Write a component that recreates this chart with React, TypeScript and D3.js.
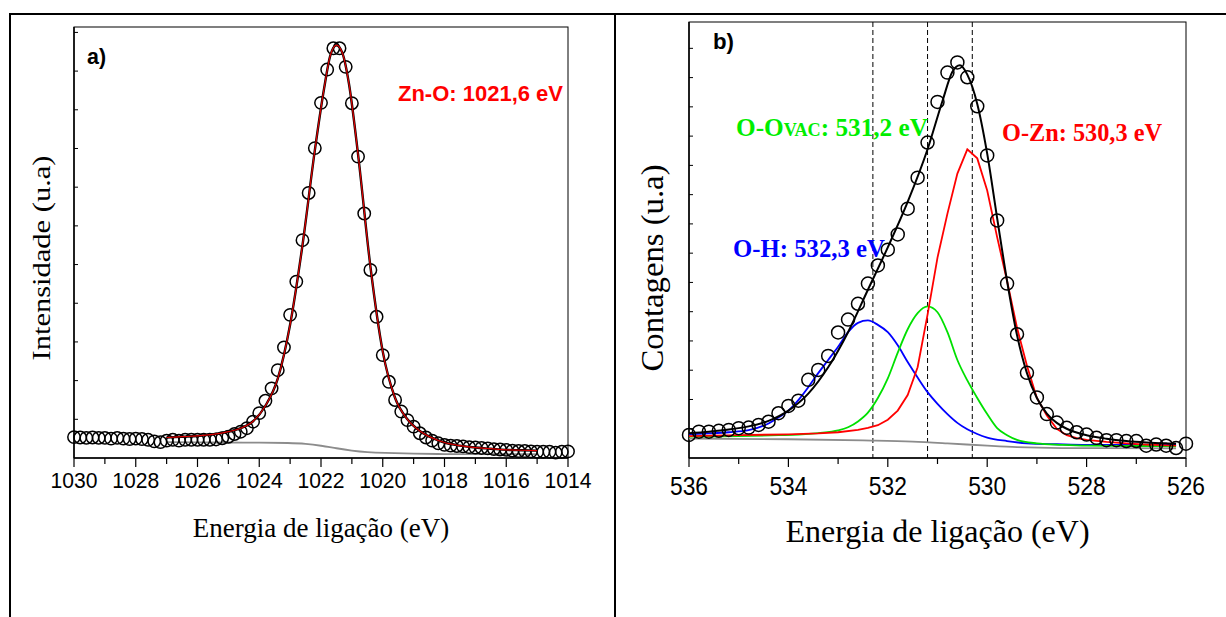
import React from "react";
import * as d3 from "d3";

// ---------- Panel a: Zn 2p ----------
const scanAStart = 1030;
const scanAStep = 0.2;
const dataA = [
  0.54, 0.53, 0.52, 0.53, 0.52, 0.52, 0.50, 0.52, 0.50, 0.49, 0.50, 0.49, 0.47, 0.43, 0.41, 0.45, 0.47, 0.45, 0.47, 0.47, 0.47, 0.47, 0.47, 0.48,
  0.51, 0.55, 0.62, 0.68, 0.77, 0.94, 1.16, 1.48, 1.80, 2.27, 2.86, 3.70, 4.56, 5.63, 6.85, 8.01, 9.18, 10.04, 10.59, 10.59, 10.11, 9.17, 7.79, 6.32, 4.86, 3.65, 2.66, 1.97, 1.50, 1.20, 0.98, 0.81, 0.64, 0.53, 0.45, 0.38, 0.34,
  0.32, 0.31, 0.30, 0.28, 0.27, 0.26, 0.25, 0.23, 0.22, 0.21, 0.19, 0.18, 0.18, 0.17, 0.16, 0.16, 0.16, 0.14, 0.16, 0.17,
];
const fitA: [number, number][] = [
  [1027.0, 0.53], [1026.5, 0.55], [1026.0, 0.57], [1025.5, 0.61], [1025.0, 0.68], [1024.6, 0.77], [1024.2, 0.95],
  [1023.8, 1.35], [1023.4, 2.05], [1023.0, 3.45], [1022.6, 5.5], [1022.2, 7.95], [1021.9, 9.55], [1021.7, 10.4],
  [1021.5, 10.67], [1021.3, 10.45], [1021.1, 9.7], [1020.8, 7.85], [1020.4, 4.95], [1020.0, 2.75], [1019.6, 1.55],
  [1019.2, 1.0], [1018.8, 0.7], [1018.4, 0.52], [1018.0, 0.4], [1017.5, 0.32], [1017.0, 0.27], [1016.5, 0.24],
  [1016.0, 0.21], [1015.5, 0.2], [1015.0, 0.19],
];
const bgA: [number, number][] = [
  [1027, 0.41], [1026, 0.40], [1025, 0.40], [1024, 0.40], [1023, 0.39], [1022.5, 0.37], [1022, 0.32], [1021.5, 0.25],
  [1021, 0.19], [1020.5, 0.15], [1020, 0.13], [1019, 0.11], [1018, 0.10], [1017, 0.10], [1016, 0.10], [1015, 0.10],
];
const xTicksA = [1030, 1028, 1026, 1024, 1022, 1020, 1018, 1016, 1014];
const xMinorA = [1029, 1027, 1025, 1023, 1021, 1019, 1017, 1015];
const yTicksA = [1, 2, 3, 4, 5, 6, 7, 8, 9, 10, 11];

// ---------- Panel b: O 1s ----------
const scanBStart = 536;
const scanBStep = 0.2;
const dataB = [
  0.79, 0.90, 0.90, 0.93, 0.96, 1.02, 1.04, 1.13, 1.24, 1.53, 1.78, 1.96, 2.67,
  3.01, 3.49, 4.29, 4.73, 5.27, 5.96, 6.58, 7.12, 7.64, 8.52, 9.58, 10.78, 12.17, 13.17, 13.52,
  13.01, 12.02, 10.34, 8.12, 5.96, 4.23, 2.91, 2.07, 1.50, 1.21, 1.03, 0.88, 0.80, 0.69, 0.61, 0.61, 0.58, 0.58, 0.42, 0.46, 0.42, 0.34, 0.49,
];
const envB: [number, number][] = [
  [536.0, 0.85], [535.6, 0.9], [535.2, 0.97], [534.8, 1.08], [534.4, 1.27], [534.0, 1.62], [533.6, 2.2], [533.2, 3.1],
  [532.8, 4.3], [532.4, 5.75], [532.0, 7.2], [531.6, 8.75], [531.2, 10.55], [530.9, 12.2], [530.7, 13.2], [530.55, 13.42],
  [530.4, 13.1], [530.2, 12.1], [530.0, 10.4], [529.8, 8.2], [529.6, 6.05], [529.4, 4.2], [529.2, 2.9], [529.0, 2.05],
  [528.8, 1.52], [528.6, 1.2], [528.4, 1.0], [528.0, 0.78], [527.6, 0.66], [527.2, 0.58], [526.8, 0.53], [526.4, 0.5], [526.2, 0.49],
];
const oznB: [number, number][] = [
  [536.0, 0.75], [535.0, 0.78], [534.0, 0.81], [533.4, 0.84], [533.0, 0.88], [532.6, 0.96], [532.4, 1.03], [532.2, 1.12],
  [532.0, 1.31], [531.8, 1.62], [531.6, 2.15], [531.4, 3.1], [531.2, 4.9], [531.0, 6.85], [530.8, 8.35], [530.6, 9.72],
  [530.4, 10.55], [530.2, 10.24], [530.0, 9.14], [529.8, 7.55], [529.6, 6.05], [529.4, 4.45], [529.2, 3.15], [529.0, 2.05],
  [528.8, 1.45], [528.6, 1.0], [528.4, 0.78], [528.2, 0.68], [528.0, 0.62], [527.6, 0.55], [527.2, 0.5], [526.8, 0.46], [526.2, 0.42],
];
const ovacB: [number, number][] = [
  [536.0, 0.73], [535.0, 0.75], [534.2, 0.78], [533.8, 0.8], [533.4, 0.85], [533.0, 0.94], [532.8, 1.05], [532.6, 1.25],
  [532.4, 1.55], [532.2, 2.05], [532.0, 2.72], [531.8, 3.6], [531.6, 4.4], [531.4, 4.95], [531.2, 5.18], [531.0, 4.98],
  [530.8, 4.3], [530.6, 3.35], [530.4, 2.65], [530.2, 2.05], [530.0, 1.5], [529.8, 1.02], [529.6, 0.78], [529.4, 0.62],
  [529.0, 0.5], [528.5, 0.45], [528.0, 0.42], [527.0, 0.41], [526.2, 0.4],
];
const ohB: [number, number][] = [
  [536.0, 0.81], [535.6, 0.84], [535.2, 0.88], [534.8, 0.95], [534.4, 1.18], [534.2, 1.38], [534.0, 1.62], [533.8, 1.98],
  [533.6, 2.42], [533.4, 2.9], [533.2, 3.35], [533.0, 3.8], [532.8, 4.3], [532.6, 4.62], [532.4, 4.7], [532.2, 4.55],
  [532.0, 4.3], [531.8, 3.85], [531.6, 3.28], [531.4, 2.75], [531.2, 2.25], [531.0, 1.85], [530.8, 1.5], [530.6, 1.2],
  [530.4, 0.98], [530.2, 0.82], [530.0, 0.7], [529.6, 0.58], [529.2, 0.5], [528.6, 0.47], [528.0, 0.45], [527.0, 0.45], [526.2, 0.45],
];
const bgB: [number, number][] = [
  [536.0, 0.66], [534.0, 0.64], [532.5, 0.6], [531.5, 0.56], [530.8, 0.5], [530.0, 0.42], [529.4, 0.37], [528.5, 0.34], [526.2, 0.33],
];
const peakLinesB = [532.3, 531.2, 530.3];
const xTicksB = [536, 534, 532, 530, 528, 526];
const xMinorB = [535, 533, 531, 529, 527];
const yTicksB = [1, 2, 3, 4, 5, 6, 7, 8, 9, 10, 11, 12, 13, 14];

const SANS = "'Liberation Sans', Arial, sans-serif";
const SERIF = "'Liberation Serif', 'Times New Roman', serif";

export default function App() {
  // panel a scales
  const xA = d3.scaleLinear().domain([1030, 1014]).range([74, 568]);
  const yA = d3.scaleLinear().domain([0, 11.14]).range([458, 27]);
  const ptsA = dataA.map((v, i) => [scanAStart - scanAStep * i, v] as [number, number]);
  const lineA = d3.line<[number, number]>().x((d) => xA(d[0])).y((d) => yA(d[1])).curve(d3.curveMonotoneX);
  const lineAbg = d3.line<[number, number]>().x((d) => xA(d[0])).y((d) => yA(d[1])).curve(d3.curveBasis);

  // panel b scales
  const xB = d3.scaleLinear().domain([536, 526]).range([689, 1186]);
  const yB = d3.scaleLinear().domain([0, 14.9]).range([458, 22]);
  const ptsB = dataB.map((v, i) => [scanBStart - scanBStep * i, v] as [number, number]);
  const lineBs = d3.line<[number, number]>().x((d) => xB(d[0])).y((d) => yB(d[1])).curve(d3.curveMonotoneX);
  const lineBl = d3.line<[number, number]>().x((d) => xB(d[0])).y((d) => yB(d[1])).curve(d3.curveLinear);

  const [a0, a1] = xA.range();
  const [aBot, aTop] = yA.range();
  const [b0, b1] = xB.range();
  const [bBot, bTop] = yB.range();

  return (
    <svg width={1226} height={617} style={{ position: "absolute", left: 0, top: 0, background: "#fff" }}>
      <rect x={0} y={0} width={1226} height={617} fill="#fff" />
      {/* table borders */}
      <line x1={10} y1={14} x2={1226} y2={14} stroke="#000" strokeWidth={2} />
      <line x1={10} y1={13} x2={10} y2={617} stroke="#000" strokeWidth={2} />
      <line x1={615} y1={13} x2={615} y2={617} stroke="#000" strokeWidth={2} />

      {/* ---------------- Panel a ---------------- */}
      <g>
        <rect x={a0} y={aTop} width={a1 - a0} height={aBot - aTop} fill="none" stroke="#000" strokeWidth={1} />
        {yTicksA.map((t) => (
          <line key={"ya" + t} x1={a0} x2={a0 + 4} y1={yA(t)} y2={yA(t)} stroke="#000" strokeWidth={1} />
        ))}
        {xTicksA.map((t) => (
          <g key={"xa" + t}>
            <line x1={xA(t)} x2={xA(t)} y1={aBot} y2={aBot + 9} stroke="#000" strokeWidth={1.2} />
            <text x={xA(t)} y={488} textAnchor="middle" fontFamily={SANS} fontSize={22} fill="#000" textLength={47} lengthAdjust="spacingAndGlyphs">
              {t}
            </text>
          </g>
        ))}
        {xMinorA.map((t) => (
          <line key={"xma" + t} x1={xA(t)} x2={xA(t)} y1={aBot} y2={aBot + 6} stroke="#000" strokeWidth={1.2} />
        ))}
        <line x1={a0} x2={a1} y1={aBot} y2={aBot} stroke="#000" strokeWidth={1.5} />
        <line x1={a0} x2={a0} y1={aTop} y2={aBot} stroke="#000" strokeWidth={1.5} />

        <path d={lineAbg(bgA) || ""} fill="none" stroke="#8c8c8c" strokeWidth={1.8} />
        {ptsA.map((d, i) => (
          <circle key={"ca" + i} cx={xA(d[0])} cy={yA(d[1])} r={6.2} fill="none" stroke="#000" strokeWidth={1.5} />
        ))}
        <path d={lineA(fitA) || ""} fill="none" stroke="#000" strokeWidth={2.4} />
        <path d={lineA(fitA) || ""} fill="none" stroke="#e00000" strokeWidth={1.2} />

        <text x={87} y={64} fontFamily={SANS} fontWeight="bold" fontSize={22} fill="#000" textLength={19} lengthAdjust="spacingAndGlyphs">a)</text>
        <text x={398} y={101} fontFamily={SANS} fontWeight="bold" fontSize={22} fill="#ff0000" textLength={165} lengthAdjust="spacingAndGlyphs">
          Zn-O: 1021,6 eV
        </text>
        <text x={321} y={537} textAnchor="middle" fontFamily={SERIF} fontSize={27} fill="#000">
          Energia de ligação (eV)
        </text>
        <text transform="translate(50,258) rotate(-90)" textAnchor="middle" fontFamily={SERIF} fontSize={26} fill="#000" textLength={205} lengthAdjust="spacingAndGlyphs">
          Intensidade (u.a)
        </text>
      </g>

      {/* ---------------- Panel b ---------------- */}
      <g>
        <rect x={b0} y={bTop} width={b1 - b0} height={bBot - bTop} fill="none" stroke="#000" strokeWidth={1} />
        {yTicksB.map((t) => (
          <line key={"yb" + t} x1={b0} x2={b0 + 4} y1={yB(t)} y2={yB(t)} stroke="#000" strokeWidth={1} />
        ))}
        {xTicksB.map((t) => (
          <g key={"xb" + t}>
            <line x1={xB(t)} x2={xB(t)} y1={bBot} y2={bBot + 9} stroke="#000" strokeWidth={1.2} />
            <text x={xB(t)} y={495} textAnchor="middle" fontFamily={SANS} fontSize={25} fill="#000" textLength={38} lengthAdjust="spacingAndGlyphs">
              {t}
            </text>
          </g>
        ))}
        {xMinorB.map((t) => (
          <line key={"xmb" + t} x1={xB(t)} x2={xB(t)} y1={bBot} y2={bBot + 6} stroke="#000" strokeWidth={1.2} />
        ))}
        <line x1={b0} x2={b1} y1={bBot} y2={bBot} stroke="#000" strokeWidth={1.5} />
        <line x1={b0} x2={b0} y1={bTop} y2={bBot} stroke="#000" strokeWidth={1.5} />

        {peakLinesB.map((e) => (
          <line key={"pk" + e} x1={xB(e)} x2={xB(e)} y1={bTop} y2={bBot} stroke="#000" strokeWidth={1} strokeDasharray="5,3" />
        ))}

        <path d={lineBs(bgB) || ""} fill="none" stroke="#8c8c8c" strokeWidth={1.8} />
        <path d={lineBs(ohB) || ""} fill="none" stroke="#0000ff" strokeWidth={1.8} />
        <path d={lineBs(ovacB) || ""} fill="none" stroke="#00e000" strokeWidth={1.8} />
        <path d={lineBl(oznB) || ""} fill="none" stroke="#ff0000" strokeWidth={1.8} />
        <path d={lineBs(envB) || ""} fill="none" stroke="#000" strokeWidth={2} />
        {ptsB.map((d, i) => (
          <circle key={"cb" + i} cx={xB(d[0])} cy={yB(d[1])} r={6.5} fill="none" stroke="#000" strokeWidth={1.5} />
        ))}

        <text x={713} y={49} fontFamily={SANS} fontWeight="bold" fontSize={22} fill="#000" textLength={21} lengthAdjust="spacingAndGlyphs">b)</text>
        <text x={736} y={136} fontFamily={SERIF} fontWeight="bold" fontSize={25} fill="#00ee00" textLength={192} lengthAdjust="spacingAndGlyphs">
          O-O<tspan fontSize={18}>VAC</tspan>: 531,2 eV
        </text>
        <text x={1002} y={141} fontFamily={SERIF} fontWeight="bold" fontSize={25} fill="#ff0000" textLength={160} lengthAdjust="spacingAndGlyphs">
          O-Zn: 530,3 eV
        </text>
        <text x={733} y={257} fontFamily={SERIF} fontWeight="bold" fontSize={25} fill="#0000ff" textLength={152} lengthAdjust="spacingAndGlyphs">
          O-H: 532,3 eV
        </text>
        <text x={937.5} y={542} textAnchor="middle" fontFamily={SERIF} fontSize={32} fill="#000">
          Energia de ligação (eV)
        </text>
        <text transform="translate(663,268) rotate(-90)" textAnchor="middle" fontFamily={SERIF} fontSize={32} fill="#000" textLength={207} lengthAdjust="spacingAndGlyphs">
          Contagens (u.a)
        </text>
      </g>
    </svg>
  );
}
